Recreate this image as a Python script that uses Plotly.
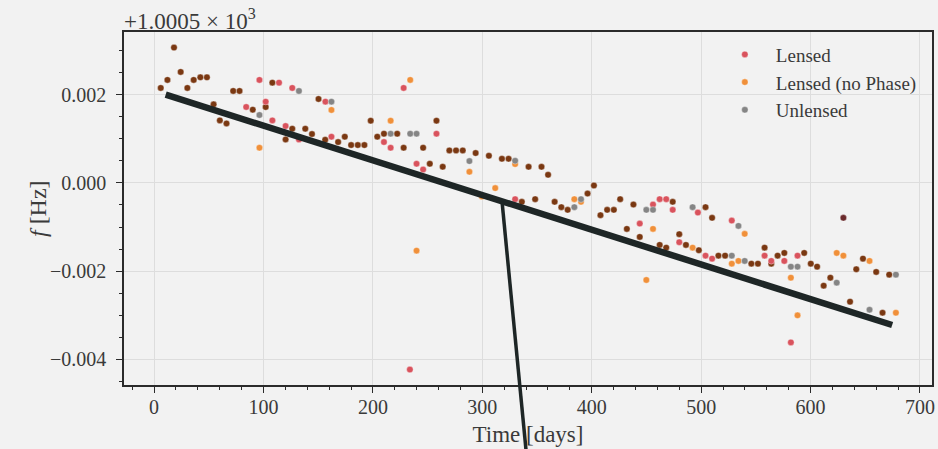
import numpy as np
import plotly.graph_objects as go

# Frequency values are stored in mHz, relative to the axis offset F0 = 1000.5 Hz
F0_LABEL = "+1.0005 × 10<sup>3</sup>"

lensed_t = [84.2, 96.3, 102.0, 108.1, 114.2, 120.2, 126.3, 132.4, 156.6, 162.1,
            210.1, 216.2, 228.1, 233.8, 239.9, 245.9, 258.1, 330.0, 443.9, 456.0,
            462.1, 468.1, 474.0, 480.0, 497.0, 504.0, 510.0, 528.0, 558.0, 564.1,
            576.0, 582.0, 588.1]
lensed_df = [1.721, 2.334, 1.841, 1.417, 2.272, 1.289, 2.152, 0.985, 1.841, 1.047,
             0.926, 0.797, 2.152, -4.23, 0.434, 0.304, 1.115, -0.368, -0.922, -0.490,
             -0.368, -0.368, -0.611, -1.344, -0.672, -1.648, -1.716, -0.854, -1.648, -1.768,
             -1.768, -3.614, -1.648]

nophase_t = [96.3, 162.1, 216.2, 234.1, 239.9, 288.2, 299.6, 311.8, 330.0, 384.1,
             390.2, 449.9, 456.0, 492.2, 528.0, 534.1, 539.8, 582.0, 588.1, 623.9,
             630.0, 653.9, 678.0]
nophase_df = [0.797, 1.653, 1.410, 2.334, -1.535, 0.252, -0.309, -0.118, 0.427, -0.368,
              -0.429, -2.200, -1.042, -1.467, -1.830, -1.768, -1.155, -2.148, -3.001, -1.587,
              -1.648, -1.768, -2.942]

unlensed_t = [96.3, 132.4, 162.1, 216.2, 234.1, 239.9, 288.2, 330.0, 384.1, 390.2,
              449.9, 456.0, 492.2, 528.0, 534.1, 539.8, 582.0, 588.1, 623.9, 653.9,
              678.0]
unlensed_df = [1.539, 2.084, 1.841, 1.115, 1.115, 1.115, 0.495, 0.502, -0.549, -0.368,
               -0.611, -0.611, -0.549, -1.648, -0.974, -1.768, -1.898, -1.898, -2.261, -2.874,
               -2.079]

# points where the series coincide (drawn in brown)
overlap_t = [6.1, 12.2, 18.2, 24.3, 30.4, 36.2, 42.3, 48.3, 54.4, 60.1,
             66.2, 72.3, 78.1, 90.2, 102.0, 108.1, 120.2, 126.3, 138.2, 144.3,
             150.3, 156.4, 168.2, 174.3, 180.1, 186.2, 192.2, 198.0, 204.0, 210.1,
             222.2, 228.1, 245.9, 252.0, 258.1, 263.8, 269.9, 276.0, 282.1, 293.9,
             306.0, 317.9, 324.0, 342.3, 354.1, 360.1, 336.1, 348.3, 366.1, 372.2,
             378.0, 396.2, 402.0, 408.0, 414.1, 420.2, 426.0, 432.1, 438.1, 443.9,
             462.1, 468.1, 474.0, 480.0, 486.1, 497.9, 504.0, 510.0, 515.8, 521.9,
             545.9, 551.9, 558.0, 564.1, 569.9, 576.0, 594.2, 600.2, 606.0, 612.0,
             618.1, 636.1, 641.8, 647.9, 660.0, 665.8, 671.9, 630.0]
overlap_df = [2.152, 2.334, 3.067, 2.515, 2.152, 2.334, 2.393, 2.393, 1.780, 1.417,
              1.348, 2.084, 2.084, 1.659, 1.721, 2.272, 0.985, 1.228, 1.228, 1.108,
              1.902, 0.978, 0.926, 1.047, 0.858, 0.858, 0.858, 1.410, 1.047, 1.115,
              1.115, 0.797, 0.797, 0.434, 1.410, 0.366, 0.736, 0.736, 0.736, 0.677,
              0.615, 0.547, 0.547, 0.365, 0.365, 0.184, -0.429, -0.368, -0.429, -0.549,
              -0.611, -0.241, -0.059, -0.731, -0.611, -0.611, -0.368, -1.042, -0.490, -1.224,
              -1.405, -1.467, -0.429, -1.162, -1.405, -1.526, -0.549, -0.792, -1.648, -1.648,
              -1.830, -1.830, -1.467, -1.830, -1.648, -1.587, -1.587, -1.830, -1.898, -2.329,
              -2.148, -2.692, -1.957, -1.716, -2.018, -2.942, -2.079, -0.792]
overlap_shade = ["#7a3812"] * (len(overlap_t) - 1) + ["#6a2a2c"]

fit_t = [10.6, 674.6]
fit_df = [2.00, -3.22]
link_t = 318.0      # connector leaves the fit line here
link_drift = 24.0   # days the connector drifts while leaving the figure downwards

legend_names = ["Lensed", "Lensed (no Phase)", "Unlensed"]
colors = ["#d9535d", "#f0903a", "#858585"]

X_RANGE = [-27.5, 711.0]
Y_RANGE = [-4.58e-3, 3.42e-3]

FONT = "Liberation Serif"
TXT = "#3a3a3a"
SPINE = "#2b2b2b"


def hz(v):
    return np.asarray(v, dtype=float) / 1000.0


edge = dict(width=0.8, color="rgba(255,255,255,0.45)")
fig = go.Figure()
fig.add_trace(go.Scatter(x=overlap_t, y=hz(overlap_df), mode="markers", showlegend=False,
                         marker=dict(size=6.5, color=overlap_shade, line=edge)))
for name, c, t, d in zip(legend_names, colors,
                         [lensed_t, nophase_t, unlensed_t],
                         [lensed_df, nophase_df, unlensed_df]):
    fig.add_trace(go.Scatter(x=t, y=hz(d), mode="markers", name=name,
                             marker=dict(size=6.5, color=c, line=edge)))
fig.add_trace(go.Scatter(x=fit_t, y=hz(fit_df), mode="lines", showlegend=False,
                         line=dict(color="#1e2626", width=6.5)))

# connector from the fit line down out of the axes (to a panel below, cropped)
link_y = float(np.interp(link_t, fit_t, fit_df)) / 1000.0
link_y_paper = (link_y - Y_RANGE[0]) / (Y_RANGE[1] - Y_RANGE[0])
fig.add_shape(type="line", xref="x", yref="paper",
              x0=link_t, y0=link_y_paper, x1=link_t + link_drift, y1=-0.25,
              line=dict(color="#1e2626", width=3.5), layer="above")

fig.add_annotation(x=0, y=1, xref="paper", yref="paper", xanchor="left", yanchor="bottom",
                   text=F0_LABEL, showarrow=False, font=dict(family=FONT, size=23, color=TXT),
                   yshift=-4, xshift=-2)
fig.add_annotation(x=-0.107, y=0.5, xref="paper", yref="paper", xanchor="center", yanchor="middle",
                   text="<i>f</i> [Hz]", textangle=-90, showarrow=False,
                   font=dict(family=FONT, size=24, color=TXT))

axis_common = dict(showgrid=True, gridcolor="#dddddd", gridwidth=1, zeroline=False,
                   showline=True, linecolor=SPINE, linewidth=1.5, mirror=True,
                   ticks="outside", ticklen=6, tickwidth=1.3, tickcolor=SPINE,
                   tickfont=dict(family=FONT, size=20, color=TXT))

fig.update_layout(
    width=938, height=449,
    margin=dict(l=124, r=3, t=32, b=64),
    paper_bgcolor="#f2f2f2", plot_bgcolor="#f2f2f2",
    xaxis=dict(range=X_RANGE, dtick=100, tick0=0,
               minor=dict(ticks="outside", ticklen=3.5, tickwidth=1, tickcolor=SPINE, dtick=20,
                          showgrid=False),
               title=dict(text="Time [days]", font=dict(family=FONT, size=23, color=TXT), standoff=9),
               ticklabelstandoff=-3,
               **axis_common),
    yaxis=dict(range=Y_RANGE, dtick=0.002, tick0=0, tickformat=".3f",
               minor=dict(ticks="outside", ticklen=3.5, tickwidth=1, tickcolor=SPINE, dtick=0.0005,
                          showgrid=False),
               ticklabelstandoff=6,
               **axis_common),
    legend=dict(x=0.730, y=0.990, xanchor="left", yanchor="top", bgcolor="rgba(0,0,0,0)",
                font=dict(family=FONT, size=19, color=TXT), itemwidth=52, tracegroupgap=0),
    showlegend=True,
)

fig.write_html("out.html")
